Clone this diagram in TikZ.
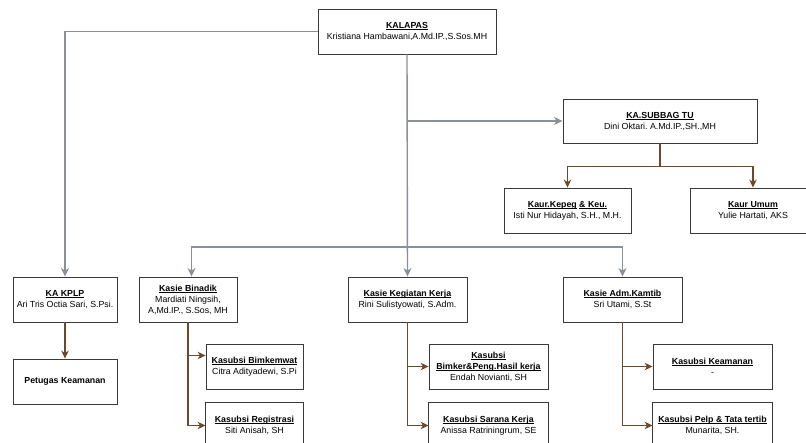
\documentclass[tikz,border=0pt]{standalone}
\usepackage{fontspec}
\setmainfont{Liberation Sans}
\usetikzlibrary{arrows.meta}
\definecolor{grayc}{HTML}{8A909B}
\definecolor{brownc}{HTML}{6E4828}
\definecolor{boxc}{HTML}{3A3A3A}
\frenchspacing
\newcommand{\ttl}[1]{\setbox0\hbox{\textbf{#1}}\rlap{\rule[-1.3pt]{\wd0}{0.5pt}}\box0\relax}
\begin{document}
\begin{tikzpicture}[x=1pt,y=-1pt,
  box/.style={draw=boxc, fill=white, line width=0.9pt, inner sep=0pt, align=center,
    font=\fontsize{8.8}{11}\selectfont\frenchspacing, minimum height=45pt},
  cutbox/.style={box, draw=none},
  gline/.style={draw=grayc, line width=1.4pt},
  garrow/.style={gline, -{Stealth[length=8.5pt,width=8pt,inset=2.5pt]}},
  bline/.style={draw=brownc, line width=1.1pt},
  barrow/.style={bline, -{Stealth[length=8pt,width=7.5pt,inset=2.5pt]}},
  edge3/.style={draw=boxc, line width=0.9pt}]
\useasboundingbox (0,0) rectangle (806,443);
\fill[white] (0,0) rectangle (806,443);

% nodes
\node[box, minimum width=178pt] (kalapas) at (407,31.5) {\ttl{KALAPAS}\\Kristiana Hambawani,A.Md.IP.,S.Sos.MH};
\node[box, minimum width=194pt, minimum height=44pt] (subbag) at (660,121) {\ttl{KA.SUBBAG TU}\\Dini Oktari. A.Md.IP.,SH.,MH};
\node[box, minimum width=127pt] (kepeg) at (567.5,210.5) {\ttl{Kaur.Kepeg}\ \ttl{\&~Keu.}\\Isti Nur Hidayah, S.H., M.H.};
\node[box, minimum width=126pt] (umum) at (753,210.5) {\ttl{Kaur Umum}\\Yulie Hartati, AKS};
\node[box, minimum width=104pt] (kplp) at (65,299.5) {\ttl{KA KPLP}\\Ari Tris Octia Sari, S.Psi.};
\node[box, minimum width=104pt] (petugas) at (65,381.5) {\textbf{Petugas Keamanan}};
\node[box, minimum width=98pt] (binadik) at (188,299.5) {\ttl{Kasie Binadik}\\Mardiati Ningsih,\\A,Md.IP., S.Sos, MH};
\node[box, minimum width=119pt] (kegiatan) at (407.5,299.5) {\ttl{Kasie Kegiatan Kerja}\\Rini Sulistyowati, S.Adm.};
\node[box, minimum width=119pt] (kamtib) at (622.5,299.5) {\ttl{Kasie Adm.Kamtib}\\Sri Utami, S.St};
\node[box, minimum width=97pt] (bimkem) at (254.5,366.5) {\ttl{Kasubsi Bimkemwat}\\Citra Adityadewi, S.Pi};
\node[box, minimum width=119pt] (bimker) at (488.5,366.5) {\ttl{Kasubsi}\\\ttl{Bimker\&Peng.Hasil kerja}\\Endah Novianti, SH};
\node[box, minimum width=119pt] (keamanan) at (712.5,366.5) {\ttl{Kasubsi Keamanan}\\-};
% bottom row: boxes run past the lower edge of the picture
\node[cutbox, minimum width=97pt] (registrasi) at (254.5,425.5) {\ttl{Kasubsi Registrasi}\\Siti Anisah, SH};
\node[cutbox, minimum width=119pt] (sarana) at (488.5,425.5) {\ttl{Kasubsi Sarana Kerja}\\Anissa Ratriningrum, SE};
\node[cutbox, minimum width=119pt] (pelp) at (712.5,425.5) {\ttl{Kasubsi Pelp \& Tata tertib}\\Munarita, SH.};
\foreach \n in {registrasi,sarana,pelp}
  \draw[edge3] ([yshift=-10pt]\n.south west) |- (\n.north east) -- ([yshift=-10pt]\n.south east);

% gray connectors
\draw[garrow] (kalapas.west) -| (kplp.north);
\draw[garrow] (kalapas.south) -- (kegiatan.north);
\coordinate (j1) at (kalapas.south |- subbag.west);
\draw[garrow] (j1) -- (subbag.west);
\coordinate (j2) at (407,247);
\draw[garrow] (j2) -| ([xshift=3.5pt]binadik.north);
\draw[garrow] (j2) -| (kamtib.north);

% brown connectors
\coordinate (j3) at ([yshift=-23pt]subbag.south);
\draw[bline] (subbag.south) -- (j3);
\draw[barrow] (j3) -| (kepeg.north);
\draw[barrow] (j3) -| (umum.north);
\draw[barrow] (kplp.south) -- (petugas.north);
\draw[barrow] (binadik.south) |- ([yshift=11pt]bimkem.west);
\draw[barrow] (binadik.south) |- (registrasi.west);
\draw[barrow] (kegiatan.south) |- (bimker.west);
\draw[barrow] (kegiatan.south) |- (sarana.west);
\draw[barrow] (kamtib.south) |- (keamanan.west);
\draw[barrow] (kamtib.south) |- (pelp.west);
\end{tikzpicture}
\end{document}
